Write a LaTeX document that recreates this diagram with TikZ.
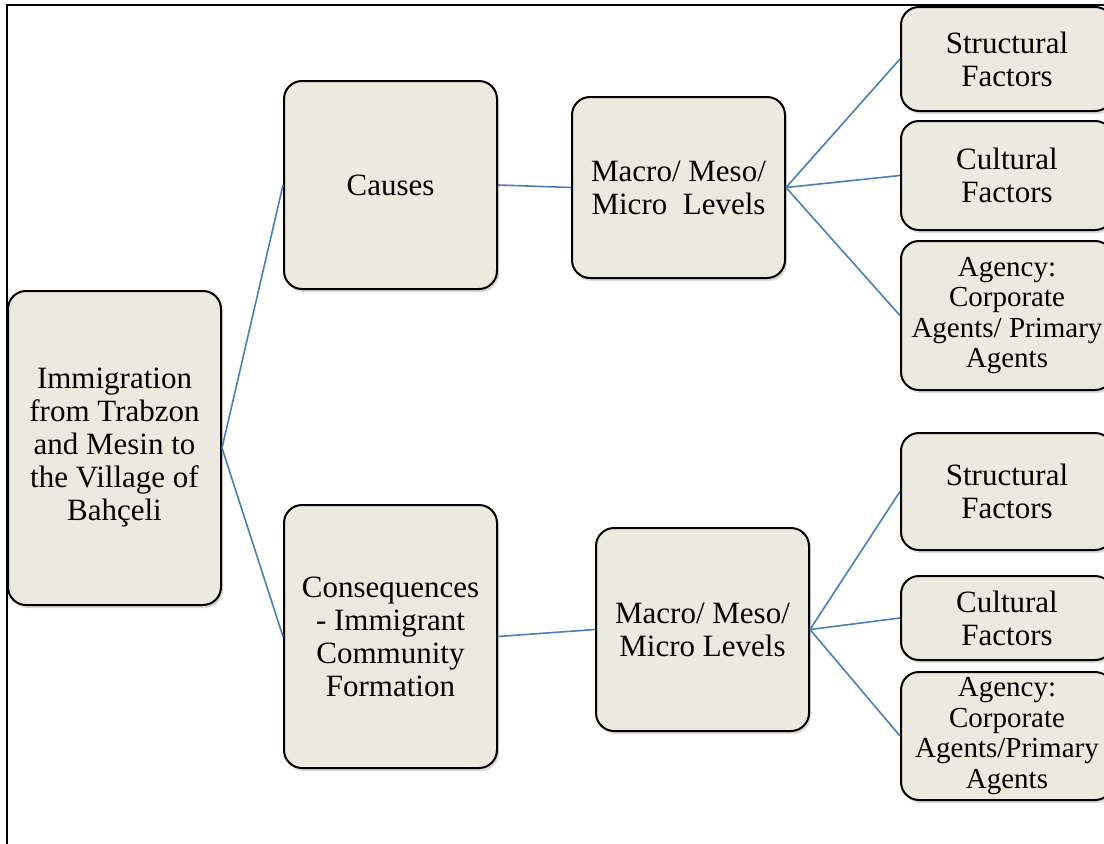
\documentclass[tikz,border=0pt]{standalone}
\usepackage{fontspec}
\setmainfont{Liberation Serif}
\usetikzlibrary{shadows}
\definecolor{boxfill}{HTML}{ECEAE0}
\definecolor{linkblue}{HTML}{4A7EBB}
\tikzset{
  box/.style={draw=black, line width=2pt, fill=boxfill, rounded corners=18pt,
    align=center, inner sep=0pt,
    drop shadow={shadow xshift=2pt, shadow yshift=-3pt, opacity=0.25, fill=black!60},
    font=\fontsize{31}{33}\selectfont},
  small/.style={font=\fontsize{29}{30.5}\selectfont},
  link/.style={draw=linkblue, line width=1.6pt}
}
\begin{document}
\begin{tikzpicture}[x=1pt,y=-1pt]
\useasboundingbox (0,0) rectangle (1104,844);
\draw[line width=2pt] (7,850) -- (7,5) -- (1110,5);

\node[box, minimum width=213pt, minimum height=314pt] (root) at (114.5,448) {Immigration\\from Trabzon\\and Mesin to\\the Village of\\Bahçeli};
\node[box, minimum width=213pt, minimum height=208pt] (causes) at (390.5,185) {Causes};
\node[box, minimum width=213pt, minimum height=263pt] (cons) at (390.5,636.5) {Consequences\\- Immigrant\\Community\\Formation};
\node[box, minimum width=213pt, minimum height=181pt] (mac1) at (678.5,187.5) {Macro/ Meso/\\Micro\ \ Levels};
\node[box, minimum width=213pt, minimum height=203pt] (mac2) at (702.5,629.5) {Macro/ Meso/\\Micro Levels};

\node[box, minimum width=212pt, minimum height=104pt] (s1) at (1007,59) {Structural\\Factors};
\node[box, minimum width=212pt, minimum height=109pt] (c1) at (1007,175.5) {Cultural\\Factors};
\node[box, small, minimum width=212pt, minimum height=149pt] (a1) at (1007,315.5) {Agency:\\Corporate\\Agents/ Primary\\Agents};
\node[box, minimum width=212pt, minimum height=117pt] (s2) at (1007,491.5) {Structural\\Factors};
\node[box, minimum width=212pt, minimum height=84pt] (c2) at (1007,618) {Cultural\\Factors};
\node[box, small, minimum width=212pt, minimum height=128pt] (a2) at (1007,736) {Agency:\\Corporate\\Agents/Primary\\Agents};

\draw[link] (root.east) -- (causes.west);
\draw[link] (root.east) -- (cons.west);
\draw[link] (causes.east) -- (mac1.west);
\draw[link] (cons.east) -- (mac2.west);
\draw[link] (mac1.east) -- (s1.west);
\draw[link] (mac1.east) -- (c1.west);
\draw[link] (mac1.east) -- (a1.west);
\draw[link] (mac2.east) -- (s2.west);
\draw[link] (mac2.east) -- (c2.west);
\draw[link] (mac2.east) -- (a2.west);
\end{tikzpicture}
\end{document}
